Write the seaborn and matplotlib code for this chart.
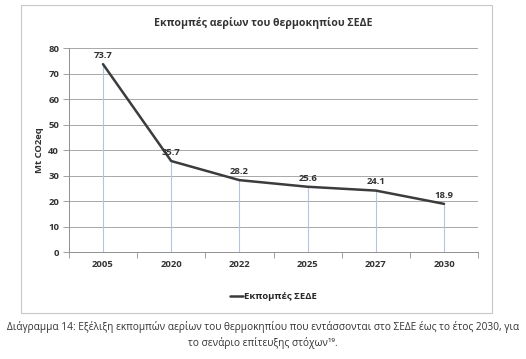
import pandas as pd
import matplotlib.pyplot as plt
import matplotlib.patches as mpatches
from matplotlib.ticker import FixedLocator
import seaborn as sns

years = ["2005", "2020", "2022", "2025", "2027", "2030"]
emissions = [73.7, 35.7, 28.2, 25.6, 24.1, 18.9]
series_name = "Εκπομπές ΣΕΔΕ"
chart_title = "Εκπομπές αερίων του θερμοκηπίου ΣΕΔΕ"
y_label = "Mt CO2eq"
caption_1 = ("Διάγραμμα 14: Εξέλιξη εκπομπών αερίων του θερμοκηπίου που εντάσσονται "
             "στο ΣΕΔΕ έως το έτος 2030, για")
caption_2 = "το σενάριο επίτευξης στόχων¹⁹."

sns.set_theme(style="white")
plt.rcParams["font.family"] = ["Open Sans", "DejaVu Sans"]

data = pd.DataFrame({"year": years, "value": emissions, "series": series_name})

fig = plt.figure(figsize=(5.26, 3.59), dpi=100)
ax = fig.add_axes([0.131, 0.298, 0.778, 0.568])

# outer chart frame
fig.patches.append(mpatches.Rectangle((0.040, 0.128), 0.895, 0.858, transform=fig.transFigure,
                                      fill=False, edgecolor="#c8c8c8", linewidth=0.8))

pos = list(range(len(years)))
ax.vlines(pos, 0, emissions, color="#b4c6dc", linewidth=0.8, zorder=1)
sns.lineplot(data=data, x="year", y="value", hue="series", palette=["#3c3c3c"],
             linewidth=1.8, ax=ax, zorder=3, legend=True)

for x, v in zip(pos, emissions):
    ax.annotate(f"{v}", (x, v), xytext=(0, 3), textcoords="offset points",
                ha="center", va="bottom", fontsize=6.8, fontweight="bold", color="#333333")

ax.set_ylim(0, 80)
ax.set_yticks(range(0, 81, 10))
ax.set_xlim(-0.5, len(years) - 0.5)
ax.xaxis.set_minor_locator(FixedLocator([p - 0.5 for p in pos] + [len(years) - 0.5]))
ax.tick_params(axis="x", which="major", length=0, labelsize=6.8, pad=6)
ax.tick_params(axis="x", which="minor", length=4, width=0.6, color="#909090", direction="out", bottom=True)
ax.tick_params(axis="y", length=4, width=0.6, color="#909090", direction="out", labelsize=6.8, left=True, pad=3)
for lab in ax.get_xticklabels() + ax.get_yticklabels():
    lab.set_fontweight("bold")
    lab.set_color("#333333")

ax.grid(axis="y", color="#a8a8a8", linewidth=0.7)
ax.set_axisbelow(True)
for s in ["top", "right"]:
    ax.spines[s].set_visible(False)
for s in ["left", "bottom"]:
    ax.spines[s].set_color("#909090")
    ax.spines[s].set_linewidth(0.7)

ax.set_xlabel("")
ax.set_ylabel(y_label, fontsize=6.8, fontweight="bold", color="#333333", labelpad=3)

ax.legend(loc="center", bbox_to_anchor=(0.5, -0.22), frameon=False, handlelength=1.4,
          handletextpad=0.1, prop={"size": 6.8, "weight": "bold"})

fig.text(0.5, 0.935, chart_title, ha="center", va="center", fontsize=7.6,
         fontweight="bold", color="#333333")
fig.text(0.5, 0.088, caption_1, ha="center", va="center", fontsize=7.3, color="#333333")
fig.text(0.5, 0.045, caption_2, ha="center", va="center", fontsize=7.3, color="#333333")

plt.savefig("out.png", dpi=100)
